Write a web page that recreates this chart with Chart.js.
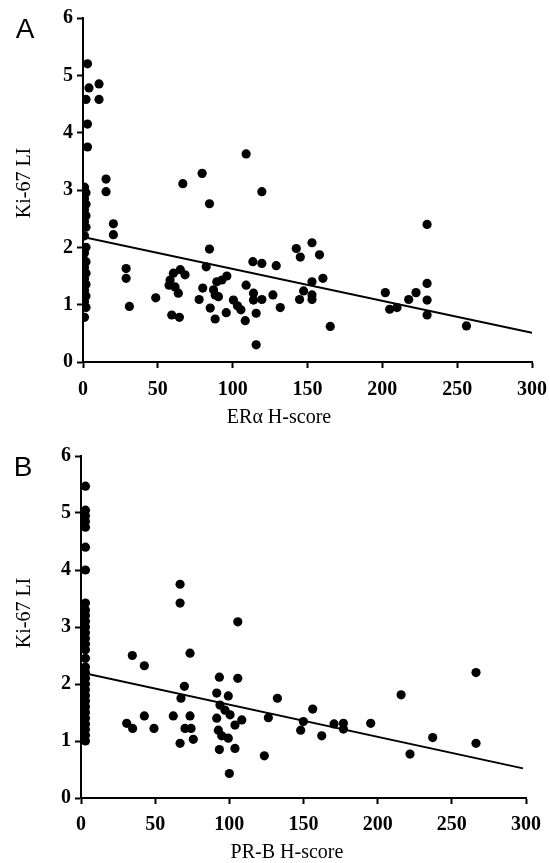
<!DOCTYPE html>
<html>
<head>
<meta charset="utf-8">
<script src="https://cdn.jsdelivr.net/npm/chart.js@4/dist/chart.umd.min.js"></script>
<style>
    body { margin: 0; background: #fff; }
    .panel { position: absolute; left: 0; }
    #panelA { top: 0; }
    #panelB { top: 430px; }
</style>
</head>
<body>
<canvas id="panelA" class="panel" width="550" height="430"></canvas>
<canvas id="panelB" class="panel" width="550" height="433"></canvas>
<script>
// panel A: ER alpha H-score vs Ki-67 LI
const erScore = [
    3, 2, 3, 3, 1, 2, 1, 2, 1, 2, 1, 2, 1, 2, 1, 2, 1, 2, 1, 2, 1, 2, 1, 2, 1,
    4, 10.7, 10.7, 15.4, 15.4, 66.7, 79.6, 84.5, 109, 119.5,
    20.3, 20.3, 28.8, 28.8, 31, 48.6, 84.5, 82.3,
    60.4, 58.2, 61.5, 63.7, 65, 68.2, 57.5, 59.3, 64.4,
    77.6, 80, 85, 88.3, 87.2, 89.4, 92.8, 96.1, 90.5, 88.3,
    95.7, 100.5, 103.2, 105.5, 108.4, 109, 113.9, 113.9, 115.7, 115.7, 113.5, 119.5, 119.5, 126.9, 129.1, 131.8,
    142.5, 145.2, 153, 158, 153, 147.4, 144.7, 153, 153, 160.3, 165.2,
    202, 204.9, 209.8, 217.6, 222.5, 229.9, 229.9, 229.9, 229.9, 256.2
];
const erKi67 = [
    5.2, 4.58, 4.15, 3.75, 3.05, 2.95, 2.85, 2.75, 2.65, 2.55, 2.45, 2.35, 2.2, 2.0, 1.9, 1.75, 1.65, 1.55, 1.45, 1.35, 1.25, 1.15, 1.05, 0.95, 0.78,
    4.78, 4.85, 4.58, 3.19, 2.97, 3.11, 3.29, 2.76, 3.63, 2.97,
    2.41, 2.22, 1.63, 1.46, 0.97, 1.12, 1.97, 1.66,
    1.55, 1.43, 1.31, 1.2, 1.61, 1.52, 1.34, 0.82, 0.78,
    1.09, 1.29, 0.94, 0.75, 1.26, 1.4, 1.43, 1.5, 1.14, 1.17,
    0.86, 1.08, 0.98, 0.91, 0.72, 1.34, 1.2, 1.08, 0.85, 0.3, 1.75, 1.72, 1.09, 1.17, 1.68, 0.95,
    1.98, 1.83, 2.08, 1.87, 1.4, 1.24, 1.09, 1.09, 1.17, 1.46, 0.62,
    1.21, 0.92, 0.95, 1.09, 1.21, 2.4, 1.37, 1.08, 0.82, 0.63
];
const erFitX = [0, 300];
const erFitY = [2.18, 0.51];

// panel B: PR-B H-score vs Ki-67 LI
const prScore = [
    3, 3, 3, 3, 3, 3, 3, 3, 3, 3, 3, 3, 3, 3, 3, 3, 3, 3, 3, 3, 3, 3, 3, 3, 3, 3, 3, 3, 3, 3, 3,
    66.8, 66.8, 105.7, 34.6, 42.7, 73.5, 30.8, 34.8, 42.7, 49.2, 62.2, 69.7, 67.4, 73.5, 70.1, 74.2, 66.8, 75.7,
    93.3, 105.7, 91.5, 99.3, 93.7, 97.1, 91.5, 100.5, 108.4, 103.8, 92.6, 94.9, 99.3, 103.8, 93.3, 100,
    123.6, 126.3, 132.4, 156.2, 149.9, 148.1, 162.3, 170.6, 176.9, 176.9, 195.3, 215.8, 221.8, 237.1, 266.3, 266.3
];
const prKi67 = [
    5.47, 5.05, 4.95, 4.85, 4.75, 4.4, 4.0, 3.42, 3.3, 3.2, 3.1, 3.0, 2.9, 2.8, 2.7, 2.6, 2.45, 2.3, 2.2, 2.1, 2.0, 1.9, 1.8, 1.7, 1.6, 1.5, 1.4, 1.3, 1.2, 1.1, 1.0,
    3.75, 3.42, 3.09, 2.5, 2.32, 2.54, 1.31, 1.22, 1.44, 1.22, 1.44, 1.96, 1.75, 1.44, 1.22, 1.22, 0.96, 1.03,
    2.12, 2.1, 1.84, 1.79, 1.63, 1.54, 1.4, 1.46, 1.37, 1.28, 1.19, 1.09, 1.05, 0.87, 0.85, 0.43,
    0.74, 1.41, 1.75, 1.56, 1.34, 1.19, 1.09, 1.3, 1.31, 1.21, 1.31, 1.81, 0.77, 1.06, 2.2, 0.96
];
const prFitX = [0, 298];
const prFitY = [2.2, 0.52];

const xTicks = [0, 50, 100, 150, 200, 250, 300];
const yTicks = [0, 1, 2, 3, 4, 5, 6];

const serif = "'Liberation Serif', 'DejaVu Serif', serif";

// letters and axis titles, drawn after the chart
const panelText = {
    id: "panelText",
    afterDraw(chart, args, opts) {
        const ctx = chart.ctx;
        ctx.save();
        ctx.fillStyle = "#000";
        ctx.textAlign = "center";
        ctx.textBaseline = "middle";

        ctx.font = "28px 'Liberation Sans', Arial, sans-serif";
        ctx.fillText(opts.letter, opts.letterPos[0], opts.letterPos[1]);

        ctx.font = "20px " + serif;
        ctx.fillText(opts.xTitle, opts.xTitlePos[0], opts.xTitlePos[1]);

        ctx.translate(opts.yTitlePos[0], opts.yTitlePos[1]);
        ctx.rotate(-Math.PI / 2);
        ctx.fillText(opts.yTitle, 0, 0);
        ctx.restore();
    }
};

function toPoints(xs, ys) {
    return xs.map((x, i) => ({ x: x, y: ys[i] }));
}

function axisOptions(values, max, size, pad) {
    return {
        type: "linear",
        min: 0,
        max: max,
        afterBuildTicks: scale => { scale.ticks = values.map(v => ({ value: v })); },
        afterFit: size,
        border: { display: true, color: "#000", width: 2 },
        grid: { drawOnChartArea: false, drawTicks: true, tickLength: 6, tickWidth: 2, color: "#000" },
        ticks: {
            color: "#000",
            padding: pad,
            font: { family: serif, size: 20, weight: "bold" }
        }
    };
}

function makeChart(id, xs, ys, fitX, fitY, layout, text) {
    const ctx = document.getElementById(id).getContext("2d");
    return new Chart(ctx, {
        type: "scatter",
        data: {
            datasets: [
                {
                    data: toPoints(xs, ys),
                    backgroundColor: "#000",
                    borderWidth: 0,
                    pointRadius: 4.6
                },
                {
                    type: "line",
                    data: toPoints(fitX, fitY),
                    borderColor: "#000",
                    borderWidth: 2,
                    pointRadius: 0,
                    fill: false
                }
            ]
        },
        options: {
            responsive: false,
            animation: false,
            layout: { padding: layout.padding },
            scales: {
                x: axisOptions(xTicks, 300, s => {
                    s.height = layout.xHeight;
                    s.paddingLeft = 0;
                    s.paddingRight = 0;
                }, layout.xPad),
                y: axisOptions(yTicks, 6, s => {
                    s.width = layout.yWidth;
                    s.paddingTop = 0;
                    s.paddingBottom = 0;
                }, 4)
            },
            plugins: {
                legend: { display: false },
                tooltip: { enabled: false },
                panelText: text
            }
        },
        plugins: [panelText]
    });
}

makeChart("panelA", erScore, erKi67, erFitX, erFitY,
    { padding: { top: 18, right: 18, left: 0, bottom: 0 }, xHeight: 68, yWidth: 83, xPad: 10 },
    { letter: "A", letterPos: [25, 30], xTitle: "ERα H-score", xTitlePos: [279, 418], yTitle: "Ki-67 LI", yTitlePos: [25, 183] });

makeChart("panelB", prScore, prKi67, prFitX, prFitY,
    { padding: { top: 26, right: 24, left: 0, bottom: 0 }, xHeight: 65, yWidth: 81, xPad: 9 },
    { letter: "B", letterPos: [23, 38], xTitle: "PR-B H-score", xTitlePos: [287, 423], yTitle: "Ki-67 LI", yTitlePos: [25, 183] });
</script>
</body>
</html>
